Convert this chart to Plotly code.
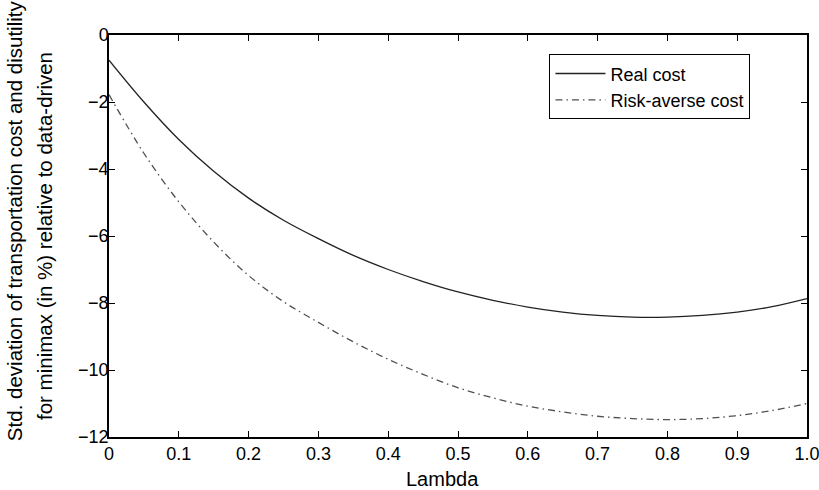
import plotly.graph_objects as go

# Lambda values and the two cost curves (% change relative to data-driven)
lam = [0.0, 0.05, 0.1, 0.15, 0.2, 0.25, 0.3, 0.35, 0.4, 0.45, 0.5,
       0.55, 0.6, 0.65, 0.7, 0.75, 0.8, 0.85, 0.9, 0.95, 1.0]
real_cost = [-0.75, -2.00, -3.12, -4.07, -4.87, -5.53, -6.08, -6.58, -7.00, -7.36, -7.67,
             -7.92, -8.12, -8.27, -8.37, -8.42, -8.42, -8.37, -8.27, -8.11, -7.87]
risk_averse_cost = [-1.78, -3.53, -4.98, -6.18, -7.18, -7.96, -8.58, -9.16, -9.68, -10.13, -10.53,
                    -10.83, -11.08, -11.25, -11.38, -11.45, -11.48, -11.45, -11.36, -11.21, -11.00]

x_ticks = [0, 0.1, 0.2, 0.3, 0.4, 0.5, 0.6, 0.7, 0.8, 0.9, 1.0]
x_tick_text = ["0", "0.1", "0.2", "0.3", "0.4", "0.5", "0.6", "0.7", "0.8", "0.9", "1.0"]
y_ticks = [0, -2, -4, -6, -8, -10, -12]

y_title_lines = ["Std. deviation of transportation cost and disutility",
                 "for minimax (in %) relative to data-driven"]
x_title = "Lambda"

font_family = "Liberation Sans, Arial, Helvetica, sans-serif"

fig = go.Figure()
fig.add_trace(go.Scatter(
    x=lam, y=real_cost, mode="lines", name="Real cost",
    line=dict(color="#222222", width=1.3, shape="spline", smoothing=1.0),
))
fig.add_trace(go.Scatter(
    x=lam, y=risk_averse_cost, mode="lines", name="Risk-averse cost",
    line=dict(color="#505050", width=1.3, shape="spline", smoothing=1.0,
              dash="7px,4px,1.5px,4px"),
))

axis_common = dict(
    showline=True, linecolor="black", linewidth=1.5, mirror="ticks",
    ticks="inside", ticklen=6, tickwidth=1.2, tickcolor="black",
    showgrid=False, zeroline=False, automargin=False,
    ticklabeloverflow="allow",
    tickfont=dict(family=font_family, size=18, color="black"),
)

fig.update_layout(
    template="none",
    width=819, height=490,
    margin=dict(l=109, r=12, t=35, b=53),
    paper_bgcolor="white", plot_bgcolor="white",
    font=dict(family=font_family, size=18, color="black"),
    xaxis=dict(range=[0, 1], tickvals=x_ticks, ticktext=x_tick_text, **axis_common),
    yaxis=dict(range=[-12, 0], tickvals=y_ticks, ticklabelstandoff=-5, **axis_common),
    legend=dict(
        x=0.631, y=0.952, xanchor="left", yanchor="top",
        bordercolor="black", borderwidth=1, bgcolor="white",
        font=dict(family=font_family, size=18, color="black"),
        tracegroupgap=0, itemwidth=50,
    ),
    showlegend=True,
)

# Two-line rotated y-axis title
for text, xshift, ypos in [(y_title_lines[0], -95, 0.537), (y_title_lines[1], -65, 0.5)]:
    fig.add_annotation(
        text=text, xref="paper", yref="paper", x=0, y=ypos,
        xshift=xshift, xanchor="center", yanchor="middle",
        textangle=-90, showarrow=False,
        font=dict(family=font_family, size=20.5, color="black"),
    )

fig.add_annotation(
    text=x_title, xref="paper", yref="paper", x=0.4785, y=-0.1045,
    xanchor="center", yanchor="middle", showarrow=False,
    font=dict(family=font_family, size=20, color="black"),
)

fig.write_html("out.html")
